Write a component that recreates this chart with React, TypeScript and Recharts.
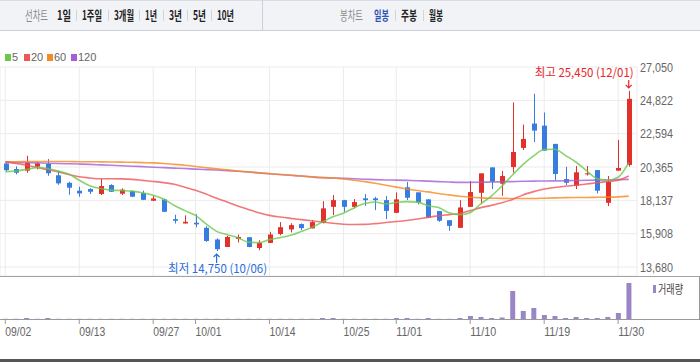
import React from "react";
import { Bar, CartesianGrid, ComposedChart, Line, ReferenceDot, XAxis, YAxis } from "recharts";

// trading days, 2021-09-02 .. 2021-12-01
const dates = [
  "09/02", "09/03", "09/06", "09/07", "09/08", "09/09", "09/10", "09/13", "09/14", "09/15",
  "09/16", "09/17", "09/23", "09/24", "09/27", "09/28", "09/29", "09/30", "10/01", "10/05",
  "10/06", "10/07", "10/08", "10/12", "10/13", "10/14", "10/15", "10/18", "10/19", "10/20",
  "10/21", "10/22", "10/25", "10/26", "10/27", "10/28", "10/29", "11/01", "11/02", "11/03",
  "11/04", "11/05", "11/08", "11/09", "11/10", "11/11", "11/12", "11/15", "11/16", "11/17",
  "11/18", "11/19", "11/22", "11/23", "11/24", "11/25", "11/26", "11/29", "11/30", "12/01",
];

const opens = [
  20600, 20230, 20120, 20390, 20570, 19810, 19310, 18780, 18890, 18560,
  19160, 18580, 18760, 18620, 18110, 18200, 16880, 16590, 16640, 16300,
  15520, 15020, 15560, 15670, 14950, 15290, 15890, 16190, 16550, 16260,
  16630, 17700, 18150, 17700, 18270, 18270, 18150, 17300, 19010, 18670,
  18200, 17420, 16810, 16300, 17700, 18640, 20340, 19250, 20360, 21640,
  23270, 23130, 21910, 19560, 19110, 19880, 20160, 17970, 20120, 20500,
];
const highs = [
  20650, 20410, 21120, 20720, 20900, 20120, 19380, 19050, 18940, 19560,
  19210, 18940, 18780, 18780, 18440, 18250, 17170, 17130, 17210, 16410,
  15600, 15760, 15850, 15690, 15470, 16030, 16680, 16610, 16590, 16810,
  18080, 18490, 18170, 18220, 18550, 18370, 18420, 18670, 19360, 18670,
  18200, 17420, 16810, 18150, 19430, 19940, 20340, 20100, 24680, 23200,
  25260, 24010, 21910, 20380, 20430, 20430, 20160, 19760, 22180, 25450,
];
const lows = [
  20100, 19870, 19980, 20210, 19780, 19180, 18510, 18380, 18560, 18490,
  18690, 18490, 18350, 18150, 18090, 17350, 16590, 16590, 16330, 15360,
  14750, 15020, 15320, 15000, 14800, 15290, 15800, 15990, 16140, 16260,
  16590, 17150, 17370, 17590, 17770, 17480, 16880, 17300, 18150, 17870,
  16950, 16700, 16100, 16300, 17700, 17930, 18890, 18440, 19990, 21500,
  22040, 21460, 19500, 19160, 18890, 19790, 18600, 17750, 20120, 20390,
];
const closes = [
  20150, 19980, 20650, 20610, 19950, 19270, 18980, 18600, 18710, 19090,
  18710, 18850, 18380, 18170, 18260, 17370, 16770, 16700, 16530, 15420,
  14870, 15690, 15690, 15020, 15290, 15850, 16340, 16480, 16280, 16680,
  17600, 18150, 17700, 18020, 18150, 18150, 17430, 18200, 18310, 17990,
  16990, 16770, 16430, 17660, 18690, 19940, 19380, 19760, 21370, 22240,
  22800, 21460, 19900, 19310, 20010, 19940, 18780, 19380, 20300, 24920,
];
// volume, thousand shares
const volumes = [
  20, 20, 100, 20, 100, 20, 20, 20, 20, 20,
  20, 20, 20, 20, 20, 20, 20, 20, 20, 20,
  20, 20, 20, 20, 20, 20, 20, 20, 20, 20,
  100, 100, 20, 20, 20, 20, 20, 100, 100, 20,
  100, 20, 20, 100, 300, 200, 100, 150, 2800, 800,
  1100, 400, 300, 100, 200, 100, 100, 200, 600, 3600,
];

// moving averages as drawn
const ma5 = [
  20050, 20100, 20200, 20320, 20270, 20090, 19890, 19480, 19110, 18930,
  18820, 18790, 18750, 18640, 18470, 18210, 17790, 17450, 17130, 16560,
  16060, 15840, 15640, 15340, 15310, 15510, 15640, 15800, 16050, 16330,
  16680, 17040, 17280, 17630, 17920, 18030, 17890, 17990, 18050, 18020,
  17780, 17650, 17300, 17170, 17310, 17900, 18420, 19090, 19830, 20540,
  21110, 21530, 21550, 21140, 20700, 20120, 19590, 19480, 19680, 20660,
];
const ma20 = [
  20720, 20600, 20480, 20330, 20190, 20040, 19860, 19710, 19630, 19580,
  19580, 19570, 19540, 19470, 19400, 19320, 19210, 19010, 18810, 18560,
  18270, 18020, 17760, 17530, 17300, 17130, 17020, 16930, 16850, 16770,
  16690, 16600, 16540, 16520, 16530, 16580, 16650, 16720, 16790, 16890,
  17000, 17100, 17180, 17260, 17450, 17650, 17800, 17980, 18200, 18500,
  18720, 18900, 19000, 19080, 19150, 19230, 19310, 19400, 19480, 19760,
];
const ma60 = [
  20720, 20720, 20730, 20730, 20730, 20730, 20730, 20720, 20720, 20710,
  20700, 20690, 20680, 20660, 20640, 20600, 20540, 20480, 20400, 20320,
  20240, 20170, 20100, 20040, 19980, 19920, 19860, 19810, 19760, 19710,
  19670, 19630, 19560, 19480, 19390, 19280, 19150, 19020, 18900, 18790,
  18700, 18590, 18500, 18410, 18340, 18300, 18280, 18270, 18260, 18260,
  18260, 18280, 18300, 18320, 18330, 18330, 18340, 18350, 18370, 18420,
];
const ma120 = [
  20680, 20660, 20650, 20640, 20620, 20600, 20580, 20560, 20540, 20510,
  20480, 20450, 20420, 20390, 20350, 20320, 20290, 20260, 20220, 20190,
  20160, 20120, 20080, 20030, 19970, 19910, 19860, 19810, 19760, 19700,
  19650, 19630, 19610, 19580, 19550, 19520, 19500, 19490, 19470, 19450,
  19420, 19390, 19360, 19340, 19340, 19350, 19360, 19380, 19390, 19410,
  19420, 19430, 19440, 19450, 19460, 19480, 19490, 19500, 19520, 19540,
];

const priceTicks = [13680, 15908, 18137, 20365, 22594, 24822, 27050];
const dateTicks = ["09/02", "09/13", "09/27", "10/01", "10/14", "10/25", "11/01", "11/10", "11/19", "11/30"];

const maSeries = [
  { key: "ma5", name: "5", color: "#6cc84c" },
  { key: "ma20", name: "20", color: "#ef5557" },
  { key: "ma60", name: "60", color: "#f58a22" },
  { key: "ma120", name: "120", color: "#a45fd6" },
];

const rows = dates.map((date, i) => ({
  date,
  open: opens[i],
  high: highs[i],
  low: lows[i],
  close: closes[i],
  range: [lows[i], highs[i]],
  volume: volumes[i],
  ma5: ma5[i],
  ma20: ma20[i],
  ma60: ma60[i],
  ma120: ma120[i],
}));

const hiIdx = highs.indexOf(Math.max(...highs));
const loIdx = lows.indexOf(Math.min(...lows));

const RED = "#e2302b";
const BLUE = "#377ddf";
const AXIS_FONT = "'Liberation Sans', Arial, sans-serif";
const KR_FONT = "'Noto Sans CJK KR', 'Noto Sans', sans-serif";
const fmt = (v: number) => v.toLocaleString("en-US");

function Candle(props: any) {
  const { x, y, width, height, payload } = props;
  if (!payload) return null;
  const { open, close, high, low } = payload;
  const top = Math.min(y, y + height);
  const h = Math.abs(height);
  const k = h / (high - low);
  const cx = Math.round(x + width / 2);
  const bodyTop = top + (high - Math.max(open, close)) * k;
  const bodyH = Math.max(1, Math.abs(open - close) * k);
  const color = close >= open ? RED : BLUE;
  return (
    <g>
      <line x1={cx + 0.5} x2={cx + 0.5} y1={top} y2={top + h} stroke={color} strokeWidth={1} />
      <rect x={cx - 2} y={bodyTop} width={5} height={bodyH} fill={color} />
    </g>
  );
}

function HighMark({ cx, cy }: any) {
  return (
    <g>
      <path d={`M${cx} ${cy - 11} V${cy - 3} M${cx - 3} ${cy - 6} L${cx} ${cy - 3} L${cx + 3} ${cy - 6}`} stroke="#e8262a" strokeWidth={1.2} fill="none" />
      <text x={cx + 5} y={cy - 14} textAnchor="end" fontSize={12} fill="#e8262a" fontFamily={KR_FONT} textLength={99} lengthAdjust="spacingAndGlyphs">
        {`최고 ${fmt(highs[hiIdx])} (${dates[hiIdx]})`}
      </text>
    </g>
  );
}

function LowMark({ cx, cy }: any) {
  return (
    <g>
      <path d={`M${cx} ${cy + 12} V${cy + 3} M${cx - 3} ${cy + 6} L${cx} ${cy + 3} L${cx + 3} ${cy + 6}`} stroke="#2a6fd6" strokeWidth={1.2} fill="none" />
      <text x={cx + 1} y={cy + 22} textAnchor="middle" fontSize={12} fill="#2a6fd6" fontFamily={KR_FONT} textLength={99} lengthAdjust="spacingAndGlyphs">
        {`최저 ${fmt(lows[loIdx])} (${dates[loIdx]})`}
      </text>
    </g>
  );
}

function PriceTick({ x, y, payload }: any) {
  return (
    <text x={x} y={y + 4.5} textAnchor="start" fontSize={12} fill="#666" fontFamily={AXIS_FONT} textLength={33} lengthAdjust="spacingAndGlyphs">
      {fmt(payload.value)}
    </text>
  );
}

function DateTick({ x, y, payload }: any) {
  return (
    <text x={x} y={y + 10} textAnchor="start" fontSize={12} fill="#666" fontFamily={AXIS_FONT} textLength={26} lengthAdjust="spacingAndGlyphs">
      {payload.value}
    </text>
  );
}

const tabs = [
  { t: "선차트", x: 25, w: 23, c: "#8a8a8a", b: 400 },
  { t: "1일", x: 57, w: 14, c: "#222", b: 700 },
  { t: "1주일", x: 82, w: 20, c: "#222", b: 700 },
  { t: "3개월", x: 114, w: 20, c: "#222", b: 700 },
  { t: "1년", x: 145, w: 12, c: "#222", b: 700 },
  { t: "3년", x: 169, w: 13, c: "#222", b: 700 },
  { t: "5년", x: 193, w: 13, c: "#222", b: 700 },
  { t: "10년", x: 217, w: 17, c: "#222", b: 700 },
  { t: "봉차트", x: 340, w: 23, c: "#8a8a8a", b: 400 },
  { t: "일봉", x: 374, w: 15, c: "#2f55b3", b: 700 },
  { t: "주봉", x: 401, w: 16, c: "#222", b: 700 },
  { t: "월봉", x: 429, w: 14, c: "#222", b: 700 },
];
const tabSeps = [76, 108, 139, 163, 187, 211, 395, 423];
const TAB_SCALE = 0.62;

function Header() {
  return (
    <svg width={700} height={31} style={{ position: "absolute", left: 0, top: 0 }}>
      <rect x={0} y={0} width={700} height={30} fill="#f2f3f7" />
      <line x1={0} x2={700} y1={0.5} y2={0.5} stroke="#d9dce2" />
      <line x1={0} x2={700} y1={30.5} y2={30.5} stroke="#cdd0d6" />
      <line x1={262.5} x2={262.5} y1={0} y2={30} stroke="#cdd0d6" />
      {tabSeps.map((x) => (
        <line key={x} x1={x + 0.5} x2={x + 0.5} y1={10} y2={21} stroke="#d2d4d8" />
      ))}
      {tabs.map((d) => (
        <text
          key={d.t}
          transform={`translate(${d.x},20) scale(${TAB_SCALE},1)`}
          fontSize={13}
          fontWeight={d.b}
          fill={d.c}
          fontFamily={KR_FONT}
          textLength={d.w / TAB_SCALE}
          lengthAdjust="spacingAndGlyphs"
        >
          {d.t}
        </text>
      ))}
    </svg>
  );
}

function MaLegend() {
  const xs = [5, 24, 47, 71];
  return (
    <svg width={120} height={14} style={{ position: "absolute", left: 0, top: 50 }}>
      {maSeries.map((s, i) => (
        <g key={s.key}>
          <rect x={xs[i]} y={4} width={6} height={7} fill={s.color} />
          <text x={xs[i] + 7} y={11} fontSize={11} fill="#666" fontFamily={AXIS_FONT}>
            {s.name}
          </text>
        </g>
      ))}
    </svg>
  );
}

export default function App() {
  return (
    <div style={{ position: "fixed", left: 0, top: 0, width: 700, height: 362, background: "#fff", overflow: "hidden" }}>
      <Header />
      <MaLegend />
      <div style={{ position: "absolute", left: 0, top: 0 }}>
        <ComposedChart width={700} height={277} data={rows} margin={{ top: 67, right: 0, bottom: 1, left: 0 }}>
          <CartesianGrid stroke="#ebebeb" />
          <XAxis dataKey="date" hide ticks={dateTicks} interval={0} padding={{ left: 0, right: 3 }} />
          <YAxis
            orientation="right"
            width={63}
            domain={[13680, 27050]}
            ticks={priceTicks}
            padding={{ top: 0, bottom: 9 }}
            axisLine={false}
            tickLine={false}
            tickSize={0}
            tickMargin={3}
            tick={<PriceTick />}
            allowDataOverflow
          />
          <Bar dataKey="range" barSize={5} shape={<Candle />} isAnimationActive={false} />
          {[...maSeries].reverse().map((s) => (
            <Line
              key={s.key}
              type="monotone"
              dataKey={s.key}
              stroke={s.color}
              strokeWidth={1.6}
              strokeOpacity={0.8}
              dot={false}
              activeDot={false}
              isAnimationActive={false}
            />
          ))}
          <ReferenceDot x={dates[hiIdx]} y={highs[hiIdx]} r={0} shape={<HighMark />} />
          <ReferenceDot x={dates[loIdx]} y={lows[loIdx]} r={0} shape={<LowMark />} />
        </ComposedChart>
      </div>
      <div style={{ position: "absolute", left: 0, top: 277 }}>
        <ComposedChart width={700} height={85} data={rows} margin={{ top: 0, right: 63, bottom: 0, left: 0 }}>
          <XAxis
            dataKey="date"
            ticks={dateTicks}
            interval={0}
            height={43}
            padding={{ left: 0, right: 3 }}
            axisLine={false}
            tickLine={{ stroke: "#999" }}
            tickSize={5}
            tick={<DateTick />}
          />
          <YAxis hide domain={[0, 4200]} />
          <Bar dataKey="volume" barSize={5} fill="#9a86c7" isAnimationActive={false} />
        </ComposedChart>
      </div>
      <svg width={700} height={362} style={{ position: "absolute", left: 0, top: 0, pointerEvents: "none" }}>
        <line x1={0} x2={700} y1={276.5} y2={276.5} stroke="#a3a3a3" />
        <line x1={0} x2={700} y1={319.5} y2={319.5} stroke="#999" />
        <line x1={699.5} x2={699.5} y1={277} y2={319} stroke="#999" />
        <rect x={0} y={359} width={700} height={3} fill="#555" />
        <rect x={653} y={285} width={3} height={8} fill="#9a86c7" />
        <text x={658} y={294} fontSize={12} fill="#444" fontFamily={KR_FONT} textLength={25} lengthAdjust="spacingAndGlyphs">
          거래량
        </text>
      </svg>
    </div>
  );
}
